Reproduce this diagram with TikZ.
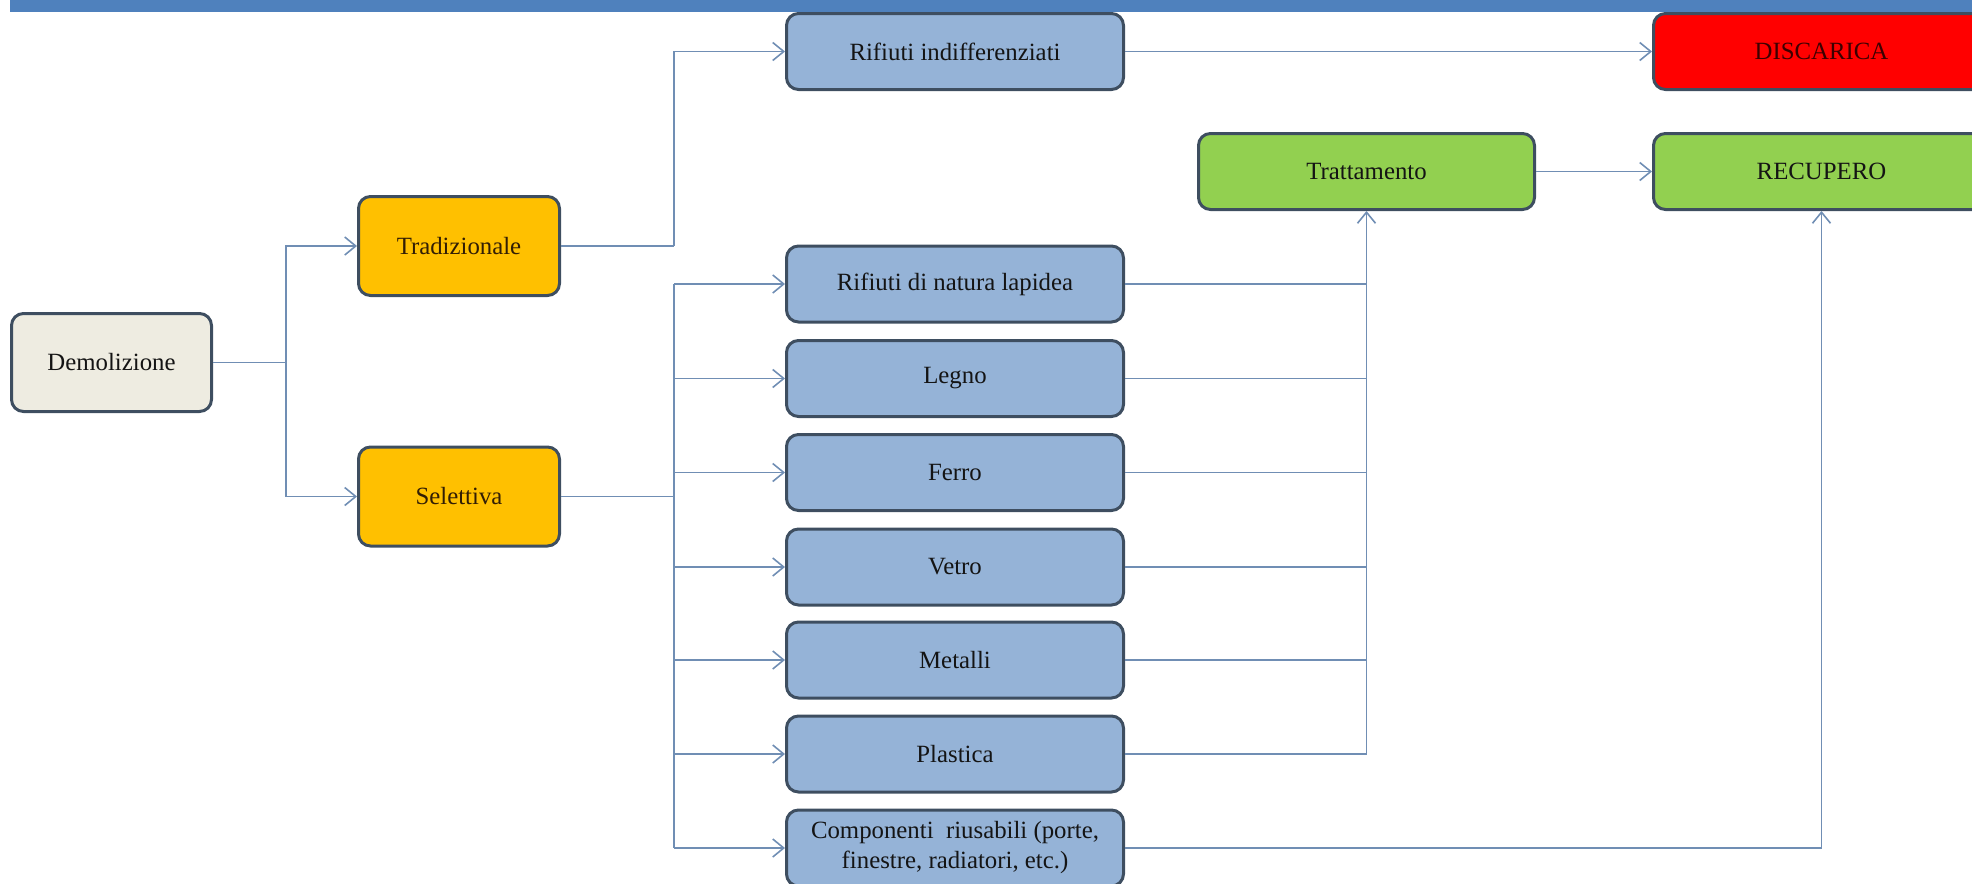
\documentclass[tikz,border=0pt]{standalone}
\usepackage{fontspec}
\setmainfont{Liberation Serif}
\usetikzlibrary{arrows.meta}
\definecolor{bandblue}{RGB}{79,129,189}
\definecolor{bord}{RGB}{62,78,96}
\definecolor{beige}{RGB}{238,236,225}
\definecolor{orange}{RGB}{255,192,0}
\definecolor{lblue}{RGB}{149,179,215}
\definecolor{lgreen}{RGB}{146,208,80}
\definecolor{dred}{RGB}{255,0,0}
\definecolor{conn}{RGB}{112,142,180}
\definecolor{txt}{RGB}{20,20,20}
\tikzset{
  box/.style={draw=bord, line width=1.5pt, rounded corners=6pt, align=center,
    text=txt, font=\fontsize{12.4}{14.5}\selectfont, inner sep=2pt},
  demobox/.style={box, fill=beige, minimum width=100pt, minimum height=49pt},
  orbox/.style={box, fill=orange, minimum width=100.5pt, minimum height=49.5pt, text={rgb,255:red,50;green,30;blue,5}},
  bluebox/.style={box, fill=lblue, minimum width=168.5pt, minimum height=38pt},
  greenbox/.style={box, fill=lgreen, minimum width=168pt, minimum height=38pt},
  redbox/.style={box, fill=dred, minimum width=168pt, minimum height=38pt, text={rgb,255:red,60;green,0;blue,0}},
  cline/.style={draw=conn, line width=0.8pt},
  carr/.style={cline, -{Straight Barb[length=5.5pt,width=9pt,line width=0.8pt]}}
}
\begin{document}
\begin{tikzpicture}[x=0.5pt,y=-0.5pt]
\useasboundingbox (0,0) rectangle (1972,884);
\clip (0,0) rectangle (1972,884);
\fill[bandblue] (10,0) rectangle (1972,12);

% nodes
\node[demobox] (demo) at (111.5,362.5) {Demolizione};
\node[orbox] (trad) at (459,246) {Tradizionale};
\node[orbox] (sel) at (459,496.5) {Selettiva};
\node[bluebox] (indiff) at (955,51.5) {Rifiuti indifferenziati};
\node[bluebox] (lap) at (955,284) {Rifiuti di natura lapidea};
\node[bluebox] (legno) at (955,378.5) {Legno};
\node[bluebox] (ferro) at (955,472.5) {Ferro};
\node[bluebox] (vetro) at (955,567) {Vetro};
\node[bluebox] (metalli) at (955,660) {Metalli};
\node[bluebox] (plast) at (955,754) {Plastica};
\node[bluebox, font=\fontsize{12.4}{15}\selectfont] (comp) at (955,848) {Componenti\ \ riusabili (porte,\\finestre, radiatori, etc.)};
\node[greenbox] (tratt) at (1366.5,171.5) {Trattamento};
\node[greenbox] (recup) at (1821.5,171.5) {RECUPERO};
\node[redbox] (disc) at (1821.5,51.5) {DISCARICA};

% junctions
\coordinate (j1) at (286,362.5);
\coordinate (j2) at (674,246);
\coordinate (j3) at (674,496.5);
\coordinate (j3top) at (674,284);
\coordinate (j3bot) at (674,848);
\coordinate (c1) at (1366.5,754);
\coordinate (c2) at (1821.5,848);

% connectors
\draw[cline] (demo.east) -- (j1);
\draw[carr] (j1) |- (trad.west);
\draw[carr] (j1) |- (sel.west);
\draw[cline] (trad.east) -- (j2);
\draw[carr] (j2) |- (indiff.west);
\draw[carr] (indiff.east) -- (disc.west);
\draw[cline] (sel.east) -- (j3);
\draw[cline] (j3top) -- (j3bot);
\foreach \n in {lap,legno,ferro,vetro,metalli,plast,comp}{
  \draw[carr] (j3top |- \n.west) -- (\n.west);
}
\foreach \n in {lap,legno,ferro,vetro,metalli}{
  \draw[cline] (\n.east) -- (c1 |- \n.east);
}
\draw[cline] (plast.east) -- (c1);
\draw[carr] (c1) -- (tratt.south);
\draw[carr] (tratt.east) -- (recup.west);
\draw[cline] (comp.east) -- (c2);
\draw[carr] (c2) -- (recup.south);
\end{tikzpicture}
\end{document}
